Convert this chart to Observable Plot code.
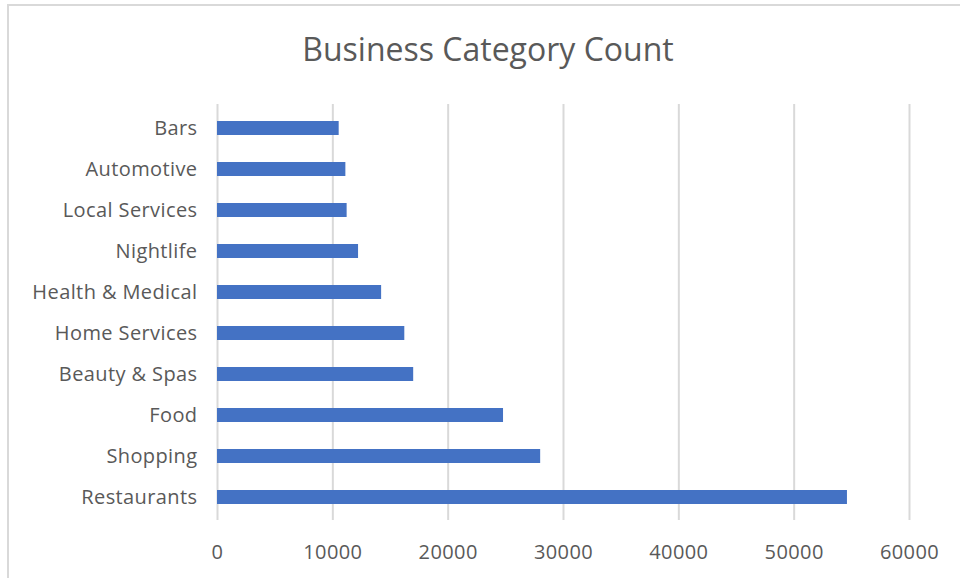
<!DOCTYPE html>
<html>
<head>
<meta charset="utf-8">
<script src="https://cdn.jsdelivr.net/npm/d3@7"></script>
<script src="https://cdn.jsdelivr.net/npm/@observablehq/plot@0.6"></script>
<style>
  html, body { margin: 0; padding: 0; background: #fff; }
  #wrap { position: relative; width: 960px; height: 578px; overflow: hidden; background: #fff; }
  #frame { position: absolute; left: 7px; top: 4px; width: 1000px; height: 700px;
           border-top: 2px solid #d9d9d9; border-left: 2px solid #d9d9d9; box-sizing: border-box; }
  #title { position: absolute; left: 0; width: 976px; top: 29px; text-align: center;
           font-family: "Open Sans", sans-serif; font-size: 32px; color: #595959; line-height: 40px; }
  #chart { position: absolute; left: 0; top: 0; }
  #chart svg text { letter-spacing: 0.4px; }
</style>
</head>
<body>
<div id="wrap">
  <div id="frame"></div>
  <div id="chart"></div>
  <div id="title">Business Category Count</div>
</div>
<script>
const categories = ["Bars", "Automotive", "Local Services", "Nightlife", "Health & Medical",
                    "Home Services", "Beauty & Spas", "Food", "Shopping", "Restaurants"];
const counts = [10550, 11130, 11240, 12230, 14230, 16240, 17010, 24800, 28020, 54620];
const xTicks = [0, 10000, 20000, 30000, 40000, 50000, 60000];

const data = categories.map((c, i) => ({category: c, count: counts[i]}));

const chart = Plot.plot({
  width: 960,
  height: 578,
  marginTop: 104,
  marginBottom: 58,
  marginLeft: 217,
  marginRight: 51,
  style: {fontFamily: "'Open Sans', sans-serif", fontSize: "20px", color: "#595959", background: "transparent"},
  x: {domain: [0, 60000], ticks: xTicks, label: null, tickFormat: d => String(d)},
  y: {domain: categories, label: null, paddingInner: 0.667, paddingOuter: 0.333},
  marks: [
    Plot.ruleX(xTicks, {stroke: "#d9d9d9", strokeWidth: 2, strokeOpacity: 1}),
    Plot.barX(data, {x: "count", y: "category", fill: "#4472C4"}),
    Plot.axisX({ticks: xTicks, tickSize: 0, tickPadding: 24, tickFormat: d => String(d), fill: "#595959", fontSize: 20, label: null}),
    Plot.axisY({tickSize: 0, tickPadding: 20, fill: "#595959", fontSize: 20, label: null})
  ]
});
document.getElementById("chart").appendChild(chart);
</script>
</body>
</html>
